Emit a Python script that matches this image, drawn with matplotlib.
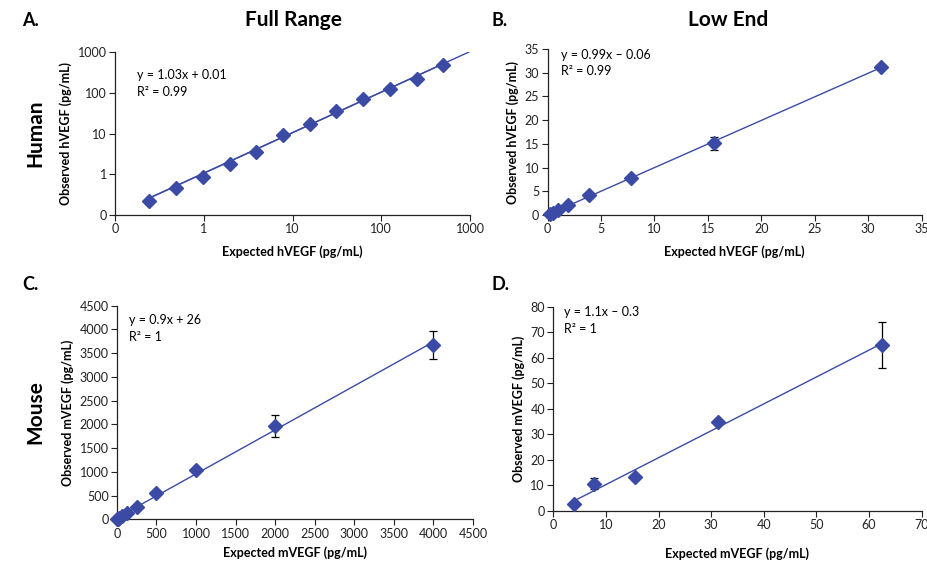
import numpy as np
import matplotlib
matplotlib.use("Agg")
import matplotlib.pyplot as plt

plt.rcParams['font.family'] = ['Lato', 'DejaVu Sans']

# human, full range (log axes) and low end
human_expected = [0.244, 0.488, 0.977, 1.95, 3.9, 7.8, 15.6, 31.25, 62.5, 125, 250, 500]
human_observed = [0.225, 0.47, 0.88, 1.83, 3.5, 9.1, 17.3, 34.8, 71, 125, 213, 489]
human_fit = [1.03, 0.01]

low_expected = [0.244, 0.488, 0.977, 1.95, 3.9, 7.8, 15.6, 31.25]
low_observed = [0.23, 0.47, 1.0, 2.05, 4.15, 7.9, 15.1, 31.3]
low_err = [0, 0, 0, 0, 0, 0, 1.4, 0]

# mouse, full range and low end
mouse_expected = [3.9, 7.8, 15.6, 31.25, 62.5, 125, 250, 500, 1000, 2000, 4000]
mouse_observed = [2.5, 10.6, 13.1, 34.9, 65, 140, 260, 548, 1032, 1966, 3672]
mouse_err = [0, 2, 0, 1, 9, 0, 0, 0, 0, 230, 290]

mlow_expected = [3.9, 7.8, 15.6, 31.25, 62.5]
mlow_observed = [2.5, 10.6, 13.1, 34.9, 65]
mlow_err = [0, 2.1, 0, 1, 9]

blue = '#3B4BA5'


def style(ax):
    ax.spines['top'].set_visible(False)
    ax.spines['right'].set_visible(False)
    for s in ['left', 'bottom']:
        ax.spines[s].set_color('#222222')
        ax.spines[s].set_linewidth(0.9)
    ax.tick_params(direction='out', length=4, width=0.8, labelsize=9, colors='#222222', pad=2)


def panel(ax, x, y, err, fit, eq, r2, tpos):
    xs = np.array(x, dtype=float)
    if fit is None:
        fit = np.polyfit(xs, y, 1)
    xl = np.array([xs.min(), xs.max()])
    ax.plot(xl, fit[0] * xl + fit[1], color=blue, lw=1.0, zorder=2)
    if err is not None:
        ax.errorbar(x, y, yerr=err, fmt='none', ecolor='black', elinewidth=0.9,
                    capsize=3, capthick=0.9, zorder=3)
    ax.plot(x, y, 'D', color=blue, ms=6.8, zorder=4, clip_on=False)
    ax.text(tpos[0], tpos[1], eq, transform=ax.transAxes, fontsize=9, va='center')
    ax.text(tpos[0], tpos[2], r2, transform=ax.transAxes, fontsize=9, va='center')
    style(ax)


fig = plt.figure(figsize=(9.28, 5.62), dpi=100)

# A. full range human
axA = fig.add_axes([0.124, 0.6174, 0.3825, 0.290])
panel(axA, human_expected, human_observed, None, human_fit,
      'y = 1.03x + 0.01', 'R\u00b2 = 0.99', (0.062, 0.86, 0.755))
xl = np.array([human_expected[0], 1000])
axA.plot(xl, human_fit[0] * xl + human_fit[1], color=blue, lw=1.0, zorder=2)
axA.set_xscale('log')
axA.set_yscale('log')
axA.set_xlim(0.1, 1000)
axA.set_ylim(0.1, 1000)
dec = [0.1, 1, 10, 100, 1000]
dec_labels = ['0', '1', '10', '100', '1000']
axA.set_xticks(dec, dec_labels)
axA.set_yticks(dec, dec_labels)
axA.minorticks_off()
axA.set_xlabel('Expected hVEGF (pg/mL)', fontsize=9, fontweight='bold', labelpad=7)
axA.set_ylabel('Observed hVEGF (pg/mL)', fontsize=9, fontweight='bold')

# B. low end human
axB = fig.add_axes([0.590, 0.6174, 0.403, 0.2954])
panel(axB, low_expected, low_observed, low_err, None,
      'y = 0.99x \u2013 0.06', 'R\u00b2 = 0.99', (0.037, 0.964, 0.867))
axB.set_xlim(0, 35)
axB.set_ylim(0, 35)
axB.set_xticks(np.arange(0, 36, 5))
axB.set_yticks(np.arange(0, 36, 5))
axB.set_xlabel('Expected hVEGF (pg/mL)', fontsize=9, fontweight='bold', labelpad=7)
axB.set_ylabel('Observed hVEGF (pg/mL)', fontsize=9, fontweight='bold')

# C. full range mouse
axC = fig.add_axes([0.126, 0.076, 0.3836, 0.380])
panel(axC, mouse_expected, mouse_observed, mouse_err, None,
      'y = 0.9x + 26', 'R\u00b2 = 1', (0.034, 0.933, 0.855))
axC.set_xlim(0, 4500)
axC.set_ylim(0, 4500)
axC.set_xticks(np.arange(0, 4501, 500))
axC.set_yticks(np.arange(0, 4501, 500))
axC.set_xlabel('Expected mVEGF (pg/mL)', fontsize=9, fontweight='bold', labelpad=5)
axC.set_ylabel('Observed mVEGF (pg/mL)', fontsize=9, fontweight='bold')

# D. low end mouse
axD = fig.add_axes([0.5962, 0.0913, 0.397, 0.363])
panel(axD, mlow_expected, mlow_observed, mlow_err, None,
      'y = 1.1x \u2013 0.3', 'R\u00b2 = 1', (0.03, 0.973, 0.89))
axD.set_xlim(0, 70)
axD.set_ylim(0, 80)
axD.set_xticks(np.arange(0, 71, 10))
axD.set_yticks(np.arange(0, 81, 10))
axD.set_xlabel('Expected mVEGF (pg/mL)', fontsize=9, fontweight='bold', labelpad=12)
axD.set_ylabel('Observed mVEGF (pg/mL)', fontsize=9, fontweight='bold')

# panel letters, column titles and row labels
fig.text(22 / 928, 1 - 20 / 562, 'A.', fontsize=13, fontweight='bold', va='center')
fig.text(492 / 928, 1 - 20 / 562, 'B.', fontsize=13, fontweight='bold', va='center')
fig.text(22 / 928, 1 - 284 / 562, 'C.', fontsize=13, fontweight='bold', va='center')
fig.text(492 / 928, 1 - 285 / 562, 'D.', fontsize=13, fontweight='bold', va='center')
fig.text(294 / 928, 1 - 20 / 562, 'Full Range', fontsize=15, fontweight='bold', ha='center', va='center')
fig.text(728 / 928, 1 - 20 / 562, 'Low End', fontsize=15, fontweight='bold', ha='center', va='center')
fig.text(35 / 928, 1 - 133 / 562, 'Human', fontsize=15, fontweight='bold', rotation=90, ha='center', va='center')
fig.text(35 / 928, 1 - 412 / 562, 'Mouse', fontsize=15, fontweight='bold', rotation=90, ha='center', va='center')

fig.savefig('out.png', dpi=100)
